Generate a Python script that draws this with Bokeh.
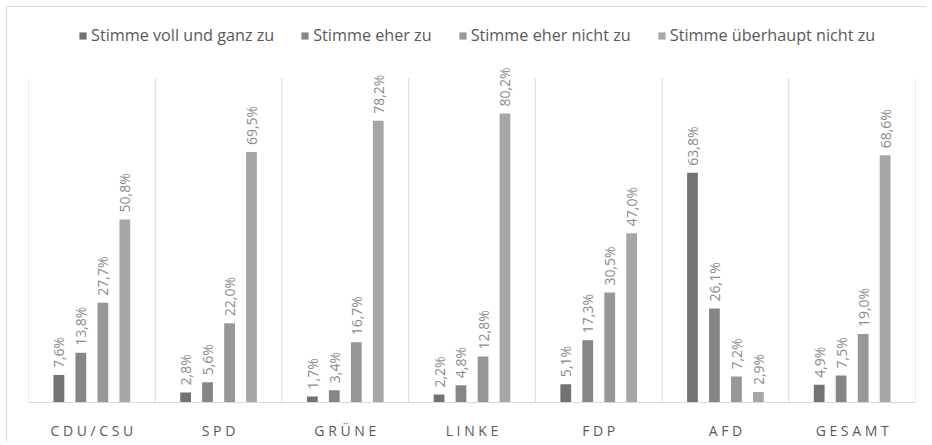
from bokeh.plotting import figure
from bokeh.models import (ColumnDataSource, Range1d, FixedTicker, Legend, LegendItem)
from bokeh.core.properties import value
from bokeh.embed import file_html
from bokeh.resources import INLINE
import math

# ---- data ----
parties = ["CDU/CSU", "SPD", "GRÜNE", "LINKE", "FDP", "AFD", "GESAMT"]
series_names = ["Stimme voll und ganz zu", "Stimme eher zu",
                "Stimme eher nicht zu", "Stimme überhaupt nicht zu"]
voll = [7.6, 2.8, 1.7, 2.2, 5.1, 63.8, 4.9]
eher = [13.8, 5.6, 3.4, 4.8, 17.3, 26.1, 7.5]
eher_nicht = [27.7, 22.0, 16.7, 12.8, 30.5, 7.2, 19.0]
ueberhaupt_nicht = [50.8, 69.5, 78.2, 80.2, 47.0, 2.9, 68.6]
tick_labels = [" ".join(list(p)) for p in parties]

series = [voll, eher, eher_nicht, ueberhaupt_nicht]
colors = ["#727272", "#868686", "#979797", "#a6a6a6"]
offsets = [-0.26, -0.087, 0.087, 0.26]

W, H = 920, 435
FRAME_H = 387
TOP = 16
p = figure(width=W, height=H, output_backend="svg", toolbar_location=None,
           x_range=Range1d(0, len(parties)), y_range=Range1d(0, 105.2),
           min_border_left=21, min_border_right=W - 21 - 887, min_border_top=TOP,
           min_border_bottom=H - TOP - FRAME_H)
p.margin = (6, 0, 0, 6)
p.styles = {"border-top": "1px solid #d9d9d9", "border-left": "1px solid #d9d9d9"}
p.outline_line_color = None
p.background_fill_color = "white"
p.xgrid.visible = False
p.ygrid.visible = False
p.yaxis.visible = False

# separators
sep_x = list(range(len(parties) + 1))
p.segment(x0=sep_x, x1=sep_x, y0=[0] * len(sep_x), y1=[90] * len(sep_x),
          line_color="#d9d9d9", line_width=1)

items = []
for k, (vals, col, off, name) in enumerate(zip(series, colors, offsets, series_names)):
    xs = [i + 0.5 + off for i in range(len(parties))]
    src = ColumnDataSource(dict(x=xs, top=vals,
                                lab=[f"{v:.1f}".replace(".", ",") + "%" for v in vals]))
    r = p.vbar(x="x", top="top", bottom=0, width=0.085, source=src,
               fill_color=col, line_color=None)
    p.text(x="x", y="top", text="lab", source=src, angle=math.pi / 2,
           text_align="left", text_baseline="middle", y_offset=-7,
           text_font=value("Open Sans"), text_font_size="14px",
           text_color="#8a8a8a")
    items.append(LegendItem(label=name, renderers=[r]))

legend = Legend(items=items, orientation="horizontal", location=(50, 356),
                glyph_width=9, glyph_height=9, label_standoff=4, spacing=26,
                padding=0, margin=0, border_line_color=None,
                background_fill_alpha=0,
                label_text_font="Open Sans", label_text_font_size="16.2px",
                label_text_color="#595959")
p.add_layout(legend, "center")

ax = p.xaxis[0]
ax.ticker = FixedTicker(ticks=[i + 0.5 for i in range(len(parties))])
ax.major_label_overrides = {i + 0.5: lab for i, lab in enumerate(tick_labels)}
ax.axis_line_color = "#d9d9d9"
ax.major_tick_line_color = None
ax.minor_tick_line_color = None
ax.major_label_standoff = 12
ax.major_label_text_font = "Open Sans"
ax.major_label_text_font_size = "14px"
ax.major_label_text_color = "#595959"

open("out.html", "w").write(file_html(p, INLINE))
